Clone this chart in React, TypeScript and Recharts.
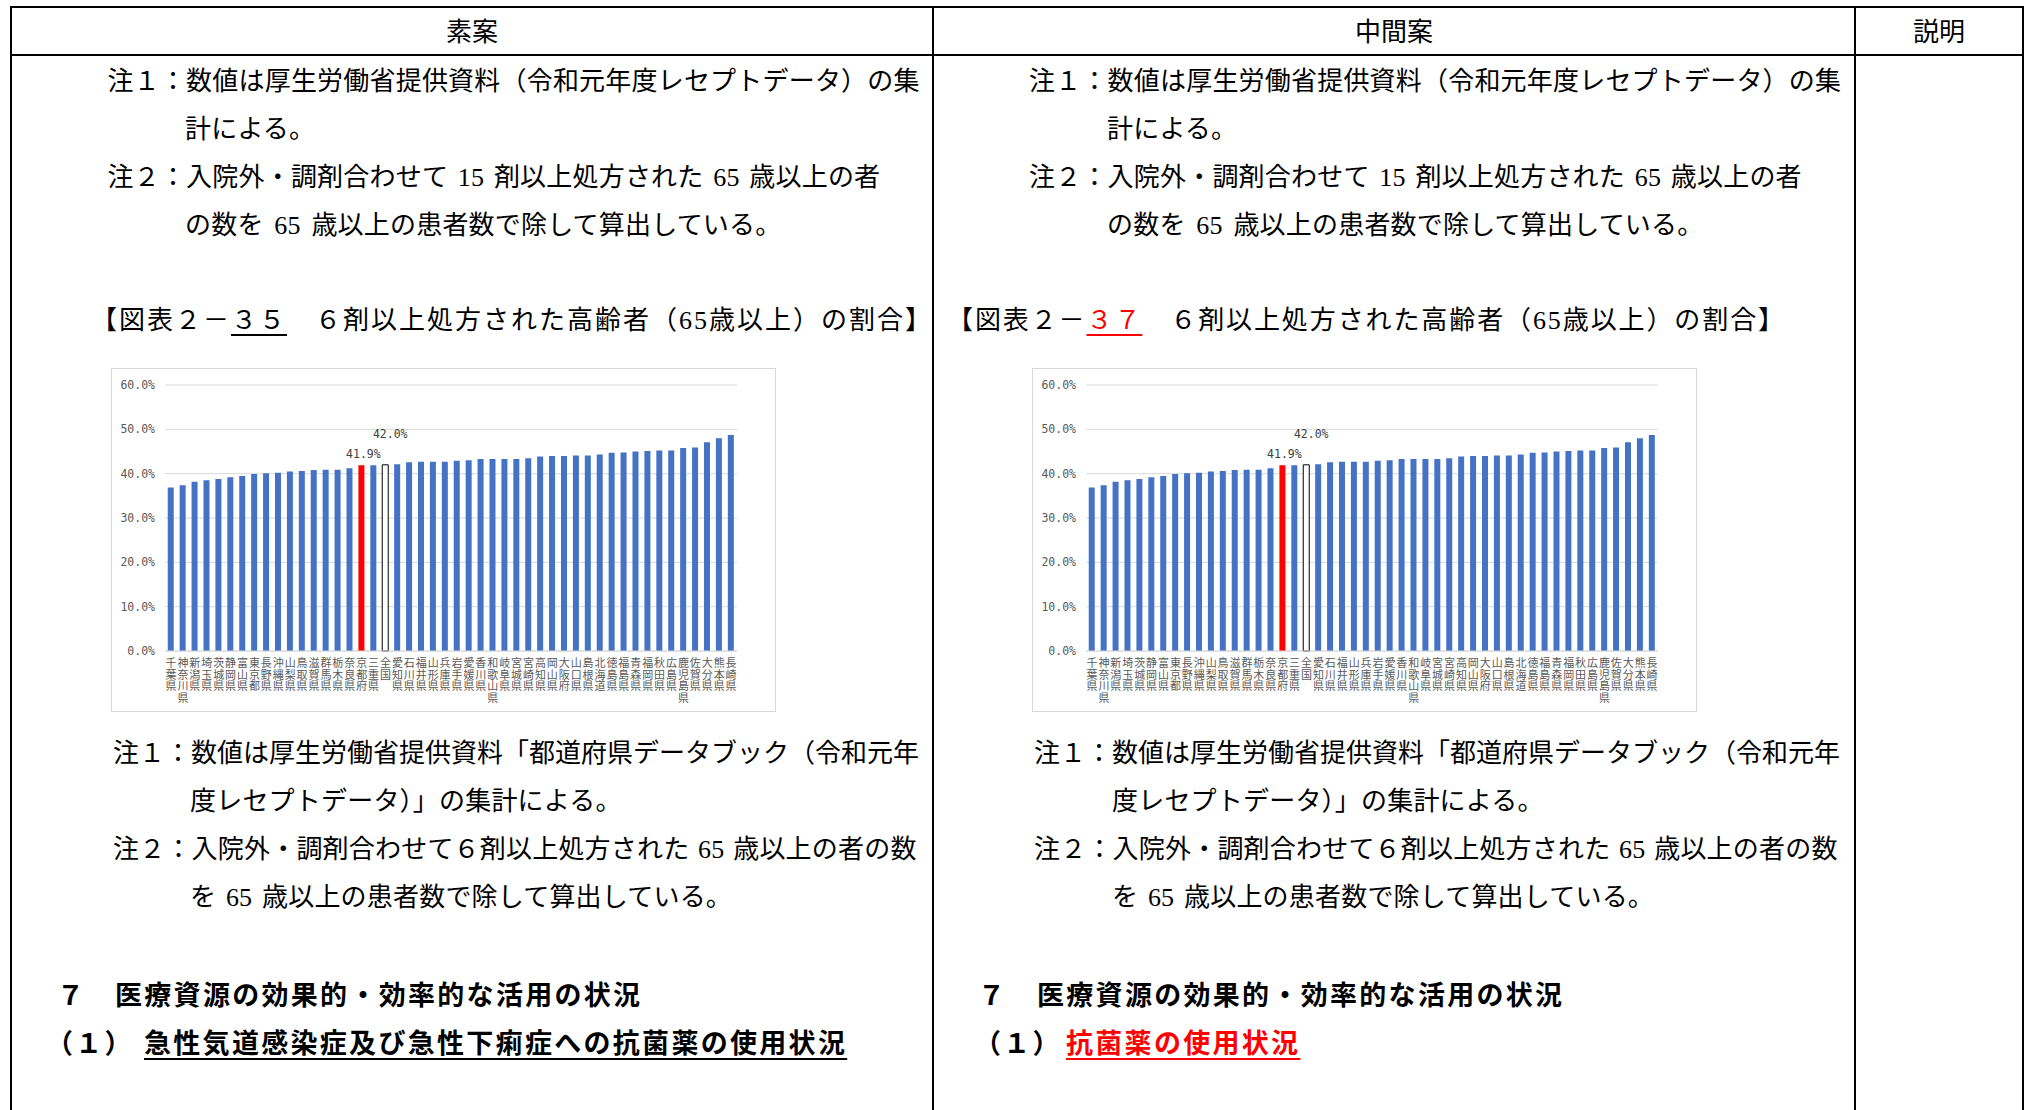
import React from 'react';
import { BarChart, Bar, XAxis, YAxis, CartesianGrid, Cell, LabelList } from 'recharts';

// ---- data ----
const prefectures = ['千葉県','神奈川県','新潟県','埼玉県','茨城県','静岡県','富山県','東京都','長野県','沖縄県','山梨県','鳥取県','滋賀県','群馬県','栃木県','奈良県','京都府','三重県','全国','愛知県','石川県','福井県','山形県','兵庫県','岩手県','愛媛県','香川県','和歌山県','岐阜県','宮城県','宮崎県','高知県','岡山県','大阪府','山口県','島根県','北海道','徳島県','福島県','青森県','福岡県','秋田県','広島県','鹿児島県','佐賀県','大分県','熊本県','長崎県'];
const rates = [36.9,37.4,38.2,38.5,38.8,39.2,39.5,39.9,40.1,40.2,40.5,40.6,40.8,40.9,40.9,41.2,41.9,41.9,42.0,42.1,42.6,42.7,42.7,42.7,42.9,43.0,43.3,43.3,43.3,43.3,43.5,43.9,44.0,44.0,44.1,44.1,44.3,44.7,44.8,45.0,45.1,45.2,45.2,45.8,45.9,47.1,48.0,48.7];
const yTicks = [0, 10, 20, 30, 40, 50, 60];
const highlightName = '京都府';
const nationalName = '全国';

const chartData = prefectures.map((name, i) => ({ name, value: rates[i] }));

const BLUE = '#4472C4';
const GRID = '#d9d9d9';
const TICK = '#595959';
const MONO = "'DejaVu Sans Mono', monospace";
const CJK = "'Noto Sans CJK JP', sans-serif";

const VerticalTick = (props: any) => {
  const { x, y, payload } = props;
  return (
    <text x={x} y={y - 1.8} textAnchor="start"
      style={{ writingMode: 'vertical-rl', textOrientation: 'upright', letterSpacing: '0.7px' } as any}
      fontSize={11} fill={TICK} fontFamily={CJK}>{String(payload.value)}</text>
  );
};

const renderLabel = (props: any) => {
  const { x, y, width, index, value } = props;
  const name = prefectures[index];
  if (name === highlightName) {
    return (
      <text x={Number(x) + Number(width) / 2 + 2} y={Number(y) - 11} textAnchor="middle" dominantBaseline="central"
        fontSize={11.5} fill="#404040" fontFamily={MONO}>{Number(value).toFixed(1)}%</text>
    );
  }
  if (name === nationalName) {
    return (
      <text x={Number(x) + Number(width) / 2 + 5} y={Number(y) - 31} textAnchor="middle" dominantBaseline="central"
        fontSize={11.5} fill="#404040" fontFamily={MONO}>{Number(value).toFixed(1)}%</text>
    );
  }
  return null;
};

const Chart = ({ left, top }: { left: number; top: number }) => (
  <div style={{ position: 'absolute', left, top, width: 665, height: 344, boxSizing: 'border-box', border: `1px solid ${GRID}`, background: '#fff' }}>
    <div style={{ position: 'absolute', left: -1, top: -1 }}>
      <BarChart width={665} height={344} data={chartData} margin={{ top: 17, right: 39, left: 0, bottom: 0 }} barCategoryGap="23%">
        <CartesianGrid vertical={false} stroke={GRID} />
        <XAxis dataKey="name" interval={0} height={61} tickLine={false} axisLine={{ stroke: GRID }}
          tick={(p: any) => <VerticalTick {...p} />} />
        <YAxis width={54} domain={[0, 60]} ticks={yTicks} axisLine={false} tickLine={false} tickMargin={4}
          tickFormatter={(v: number) => `${v.toFixed(1)}%`}
          tick={{ fontSize: 11.5, fill: TICK, fontFamily: MONO }} />
        <Bar dataKey="value" isAnimationActive={false}>
          {chartData.map((d, i) => (
            <Cell key={i}
              fill={d.name === highlightName ? '#FF0000' : d.name === nationalName ? '#ffffff' : BLUE}
              stroke={d.name === nationalName ? '#000000' : 'none'}
              strokeWidth={d.name === nationalName ? 1 : 0} />
          ))}
          <LabelList dataKey="value" content={renderLabel} />
        </Bar>
      </BarChart>
    </div>
  </div>
);

const BODY_FONT = "'Liberation Serif', 'Noto Sans CJK JP', serif";
const BOLD_FONT = "'Noto Sans CJK JP', sans-serif";

const Line = ({ left, y, children, bold, size, spacing, color, wordSpacing }: any) => {
  const fs = size || 26;
  return (
    <div style={{
      position: 'absolute', left, top: y - 19.5 + (bold ? 1.5 : 2.5), lineHeight: '36px', height: 36, fontSize: fs,
      fontFamily: bold ? BOLD_FONT : BODY_FONT, fontWeight: bold ? 700 : 400, whiteSpace: 'nowrap',
      color: color || '#000', letterSpacing: spacing ?? 0.2, wordSpacing: wordSpacing ?? 0,
    }}>{children}</div>
  );
};

const HLine = ({ x1, x2, y }: any) => (
  <div style={{ position: 'absolute', left: x1, top: y - 1, width: x2 - x1, height: 2, background: '#000' }} />
);
const VLine = ({ x, y1, y2 }: any) => (
  <div style={{ position: 'absolute', left: x - 1, top: y1, width: 2, height: y2 - y1, background: '#000' }} />
);

const Header = ({ x1, x2, text }: any) => (
  <div style={{ position: 'absolute', left: x1, width: x2 - x1, top: 32 - 17, lineHeight: '36px', textAlign: 'center', fontSize: 26, fontFamily: BODY_FONT }}>{text}</div>
);

const ul = (color: string) => ({ textDecoration: 'underline', textDecorationColor: color, textDecorationThickness: 2, textUnderlineOffset: 5 } as React.CSSProperties);

export default function App() {
  return (
    <div style={{ position: 'absolute', left: 0, top: 0, width: 2031, height: 1110, background: '#fff', overflow: 'hidden' }}>
      {/* table lines */}
      <HLine x1={10} x2={2024} y={7} />
      <HLine x1={10} x2={2024} y={55} />
      <VLine x={11} y1={6} y2={1110} />
      <VLine x={932.5} y1={6} y2={1110} />
      <VLine x={1855} y1={6} y2={1110} />
      <VLine x={2023} y1={6} y2={1110} />

      <Header x1={12} x2={932} text="素案" />
      <Header x1={933} x2={1855} text="中間案" />
      <Header x1={1856} x2={2022} text="説明" />

      {/* column 1 */}
      <Line left={107.5} y={81}>注１：数値は厚生労働省提供資料（令和元年度レセプトデータ）の集</Line>
      <Line left={185} y={128.5}>計による。</Line>
      <Line left={107.5} y={176.5} wordSpacing={3}>注２：入院外・調剤合わせて 15 剤以上処方された 65 歳以上の者</Line>
      <Line left={185} y={224.5} wordSpacing={4}>の数を 65 歳以上の患者数で除して算出している。</Line>
      <Line left={91} y={320} spacing={2}>【図表２－<span style={ul('#000')}>３５</span>　６剤以上処方された高齢者（65歳以上）の割合】</Line>
      <Chart left={111} top={368} />
      <Line left={113} y={753} spacing={0}>注１：数値は厚生労働省提供資料「都道府県データブック（令和元年</Line>
      <Line left={190} y={801}>度レセプトデータ）」の集計による。</Line>
      <Line left={113} y={849} wordSpacing={2}>注２：入院外・調剤合わせて６剤以上処方された 65 歳以上の者の数</Line>
      <Line left={190} y={897} wordSpacing={3}>を 65 歳以上の患者数で除して算出している。</Line>
      <Line left={57} y={993.5} bold size={27}>７</Line>
      <Line left={115} y={993.5} bold size={27} spacing={2.3}>医療資源の効果的・効率的な活用の状況</Line>
      <Line left={46} y={1041.5} bold size={27} spacing={2.3}>（１）</Line>
      <Line left={144} y={1041.5} bold size={27} spacing={2.3}><span style={ul('#000')}>急性気道感染症及び急性下痢症への抗菌薬の使用状況</span></Line>

      {/* column 2 */}
      <Line left={1029} y={81}>注１：数値は厚生労働省提供資料（令和元年度レセプトデータ）の集</Line>
      <Line left={1107} y={128.5}>計による。</Line>
      <Line left={1029} y={176.5} wordSpacing={3}>注２：入院外・調剤合わせて 15 剤以上処方された 65 歳以上の者</Line>
      <Line left={1107} y={224.5} wordSpacing={4}>の数を 65 歳以上の患者数で除して算出している。</Line>
      <Line left={947} y={320} spacing={1.9}>【図表２－<span style={{ ...ul('#FF0000'), color: '#FF0000' }}>３７</span>　６剤以上処方された高齢者（65歳以上）の割合】</Line>
      <Chart left={1032} top={368} />
      <Line left={1034} y={753} spacing={0}>注１：数値は厚生労働省提供資料「都道府県データブック（令和元年</Line>
      <Line left={1112} y={801}>度レセプトデータ）」の集計による。</Line>
      <Line left={1034} y={849} wordSpacing={2}>注２：入院外・調剤合わせて６剤以上処方された 65 歳以上の者の数</Line>
      <Line left={1112} y={897} wordSpacing={3}>を 65 歳以上の患者数で除して算出している。</Line>
      <Line left={978} y={993.5} bold size={27}>７</Line>
      <Line left={1037} y={993.5} bold size={27} spacing={2.3}>医療資源の効果的・効率的な活用の状況</Line>
      <Line left={974} y={1041.5} bold size={27} spacing={2.3}>（１）</Line>
      <Line left={1066} y={1041.5} bold size={27} spacing={2.3}><span style={{ ...ul('#FF0000'), color: '#FF0000' }}>抗菌薬の使用状況</span></Line>
    </div>
  );
}
